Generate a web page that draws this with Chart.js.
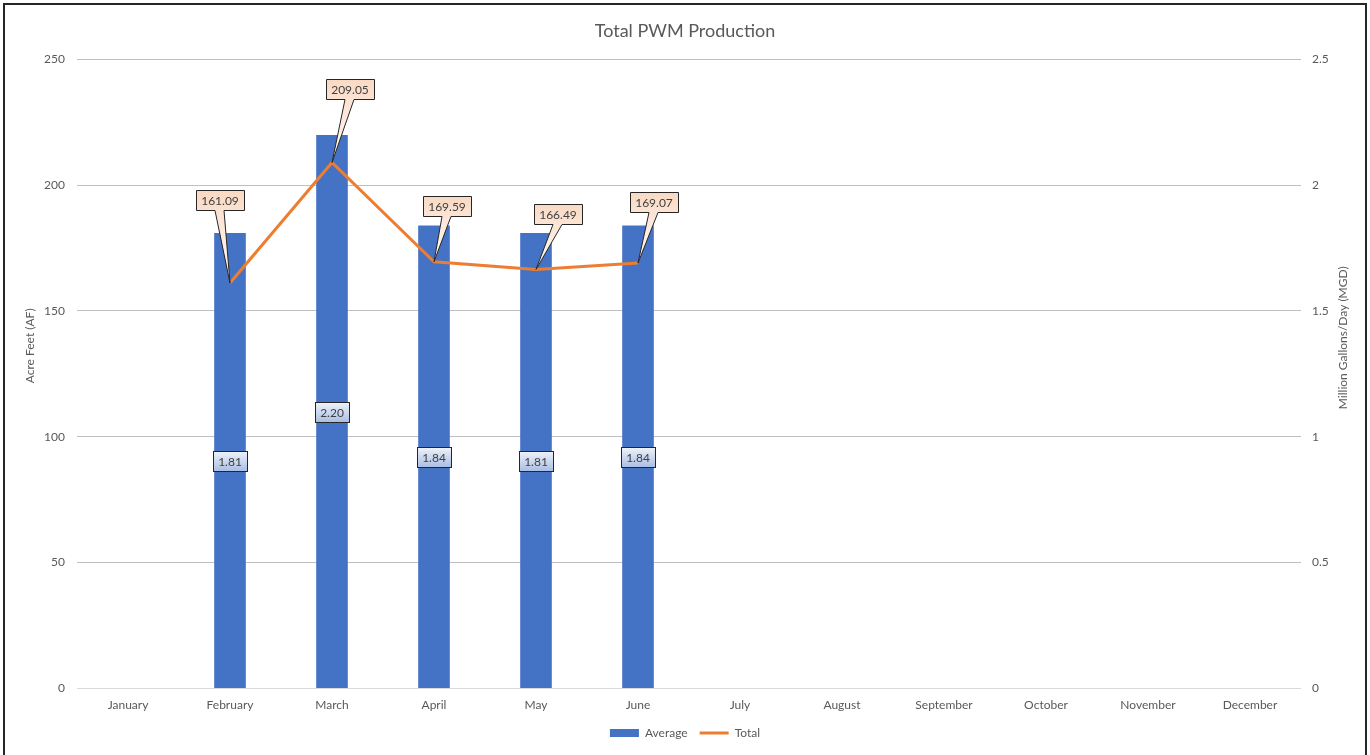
<!DOCTYPE html>
<html>
<head>
<meta charset="utf-8">
<script src="https://cdn.jsdelivr.net/npm/chart.js@4/dist/chart.umd.min.js"></script>
<style>
  html, body { margin: 0; padding: 0; background: #fff; overflow: hidden; }
  #wrap { position: relative; width: 1370px; height: 755px; }
  #frame {
    position: absolute; left: 3px; top: 3px; width: 1364px; height: 800px;
    border: 2px solid #262626; box-sizing: border-box; pointer-events: none;
  }
  canvas { position: absolute; left: 0; top: 0; }
</style>
</head>
<body>
<div id="wrap">
  <canvas id="chart" width="1370" height="755"></canvas>
  <div id="frame"></div>
</div>
<script>
// ── DATA ─────────────────────────────────────────────────────
const months = ['January', 'February', 'March', 'April', 'May', 'June',
                'July', 'August', 'September', 'October', 'November', 'December'];
// Average production, million gallons/day (right axis)
const averageMgd = [null, 1.81, 2.20, 1.84, 1.81, 1.84, null, null, null, null, null, null];
// Total production, acre feet (left axis)
const totalAf    = [null, 161.09, 209.05, 169.59, 166.49, 169.07, null, null, null, null, null, null];

const afMax = 250,  afStep = 50;
const mgdMax = 2.5, mgdStep = 0.5;

// ── STYLE ────────────────────────────────────────────────────
const COLORS = {
  bar:   '#4472C4',
  line:  '#ED7D31',
  text:  '#595959',
  grid:  '#BFBFBF',
  axis:  '#D9D9D9',
};
const FONT = "Lato, 'Open Sans', sans-serif";

// callout placement for the Total labels: [dx, lift] in px
const totalCallout = [null, [-10, 73], [18, 64], [13, 46], [22, 46], [16, 51]];

function labelText(ctx, txt, x, y) {
  ctx.fillStyle = '#404040';
  ctx.textAlign = 'center';
  ctx.textBaseline = 'middle';
  ctx.fillText(txt, x, y + 1);
}

// ── LABEL PLUGIN ─────────────────────────────────────────────
const calloutLabels = {
  id: 'calloutLabels',
  afterDatasetsDraw(chart) {
    const ctx = chart.ctx;
    ctx.save();
    ctx.font = '12px ' + FONT;

    // bar labels, centred in the bar
    const barMeta = chart.getDatasetMeta(0);
    barMeta.data.forEach((el, i) => {
      const v = averageMgd[i];
      if (v === null) return;
      const txt = v.toFixed(2);
      const w = Math.round(ctx.measureText(txt).width) + 10, h = 20;
      const cx = Math.round(el.x), cy = Math.round((el.y + el.base) / 2);
      const x0 = cx - w / 2 + 0.5, y0 = cy - h / 2 + 0.5;
      const g = ctx.createLinearGradient(0, y0, 0, y0 + h);
      g.addColorStop(0, '#EEF2FA');
      g.addColorStop(1, '#A9BDE3');
      ctx.fillStyle = g;
      ctx.fillRect(x0, y0, w, h);
      ctx.strokeStyle = '#262626';
      ctx.lineWidth = 1;
      ctx.strokeRect(x0, y0, w, h);
      labelText(ctx, txt, cx, cy);
    });

    // line labels, callout box above the point
    const lineMeta = chart.getDatasetMeta(1);
    lineMeta.data.forEach((el, i) => {
      const v = totalAf[i];
      if (v === null) return;
      const txt = v.toFixed(2);
      const [dx, lift] = totalCallout[i];
      const w = Math.round(ctx.measureText(txt).width) + 10, h = 20;
      const px = el.x, py = el.y;
      const cx = Math.round(px + dx);
      const bottom = Math.round(py - lift) + 0.5;
      const top = bottom - h;
      const left = cx - w / 2 + 0.5, right = left + w;
      const g = ctx.createLinearGradient(0, top, 0, py);
      g.addColorStop(0, '#F9D9C3');
      g.addColorStop(0.35, '#FCE6D8');
      g.addColorStop(1, '#FFFBF8');
      ctx.beginPath();
      ctx.moveTo(left, top);
      ctx.lineTo(right, top);
      ctx.lineTo(right, bottom);
      ctx.lineTo(cx + 4, bottom);
      ctx.lineTo(px, py);
      ctx.lineTo(cx - 5, bottom);
      ctx.lineTo(left, bottom);
      ctx.closePath();
      ctx.fillStyle = g;
      ctx.fill();
      ctx.strokeStyle = '#262626';
      ctx.lineWidth = 1;
      ctx.stroke();
      labelText(ctx, txt, cx, top + h / 2);
    });
    ctx.restore();
  },
  // both axis titles read bottom-to-top, as in the original
  afterDraw(chart) {
    const ctx = chart.ctx;
    const mid = (chart.chartArea.top + chart.chartArea.bottom) / 2;
    ctx.save();
    ctx.font = '12px ' + FONT;
    ctx.fillStyle = COLORS.text;
    ctx.textAlign = 'center';
    ctx.textBaseline = 'middle';
    [['Acre Feet (AF)', 30, mid - 28], ['Million Gallons/Day (MGD)', 1343, mid - 36]].forEach(([t, x, y]) => {
      ctx.save();
      ctx.translate(x, y);
      ctx.rotate(-Math.PI / 2);
      ctx.fillText(t, 0, 0);
      ctx.restore();
    });
    ctx.restore();
  },
};

// ── CHART ────────────────────────────────────────────────────
Chart.defaults.font.family = FONT;
Chart.defaults.font.size = 12;
Chart.defaults.color = COLORS.text;

new Chart(document.getElementById('chart'), {
  type: 'bar',
  data: {
    labels: months,
    datasets: [
      {
        type: 'bar',
        label: 'Average',
        data: averageMgd,
        yAxisID: 'mgd',
        backgroundColor: COLORS.bar,
        borderWidth: 0,
        categoryPercentage: 1,
        barPercentage: 0.31,
        pointStyle: 'rect',
        order: 2,
      },
      {
        type: 'line',
        label: 'Total',
        data: totalAf,
        yAxisID: 'af',
        borderColor: COLORS.line,
        backgroundColor: COLORS.line,
        borderWidth: 3,
        pointRadius: 0,
        pointHoverRadius: 0,
        pointStyle: 'line',
        tension: 0,
        order: 1,
      },
    ],
  },
  options: {
    responsive: false,
    animation: false,
    layout: { padding: { top: 0, bottom: 6, left: 0, right: 0 } },
    plugins: {
      title: {
        display: true,
        text: 'Total PWM Production',
        color: COLORS.text,
        font: { size: 18, family: FONT, weight: 'normal' },
        padding: { top: 20, bottom: 18 },
      },
      legend: {
        position: 'bottom',
        labels: {
          usePointStyle: true,
          pointStyleWidth: 29,
          boxWidth: 29,
          boxHeight: 8,
          padding: 12,
          color: COLORS.text,
          font: { size: 12 },
          sort: (a, b) => a.datasetIndex - b.datasetIndex,
        },
      },
      tooltip: { enabled: false },
    },
    scales: {
      x: {
        grid: { display: false },
        border: { display: false },
        ticks: { padding: 2, color: COLORS.text, autoSkip: false, maxRotation: 0 },
        afterFit: s => { s.height = 27; },
      },
      af: {
        position: 'left',
        min: 0, max: afMax,
        ticks: { stepSize: afStep, padding: 12, color: COLORS.text },
        grid: {
          drawTicks: false,
          color: c => c.tick.value === 0 ? COLORS.axis : COLORS.grid,
        },
        border: { display: false },
        afterFit: s => { s.width = 77; },
      },
      mgd: {
        position: 'right',
        min: 0, max: mgdMax,
        ticks: { stepSize: mgdStep, padding: 11, color: COLORS.text, callback: v => String(v) },
        grid: { display: false, drawTicks: false },
        border: { display: false },
        afterFit: s => { s.width = 69; },
      },
    },
  },
  plugins: [calloutLabels],
});
</script>
</body>
</html>
